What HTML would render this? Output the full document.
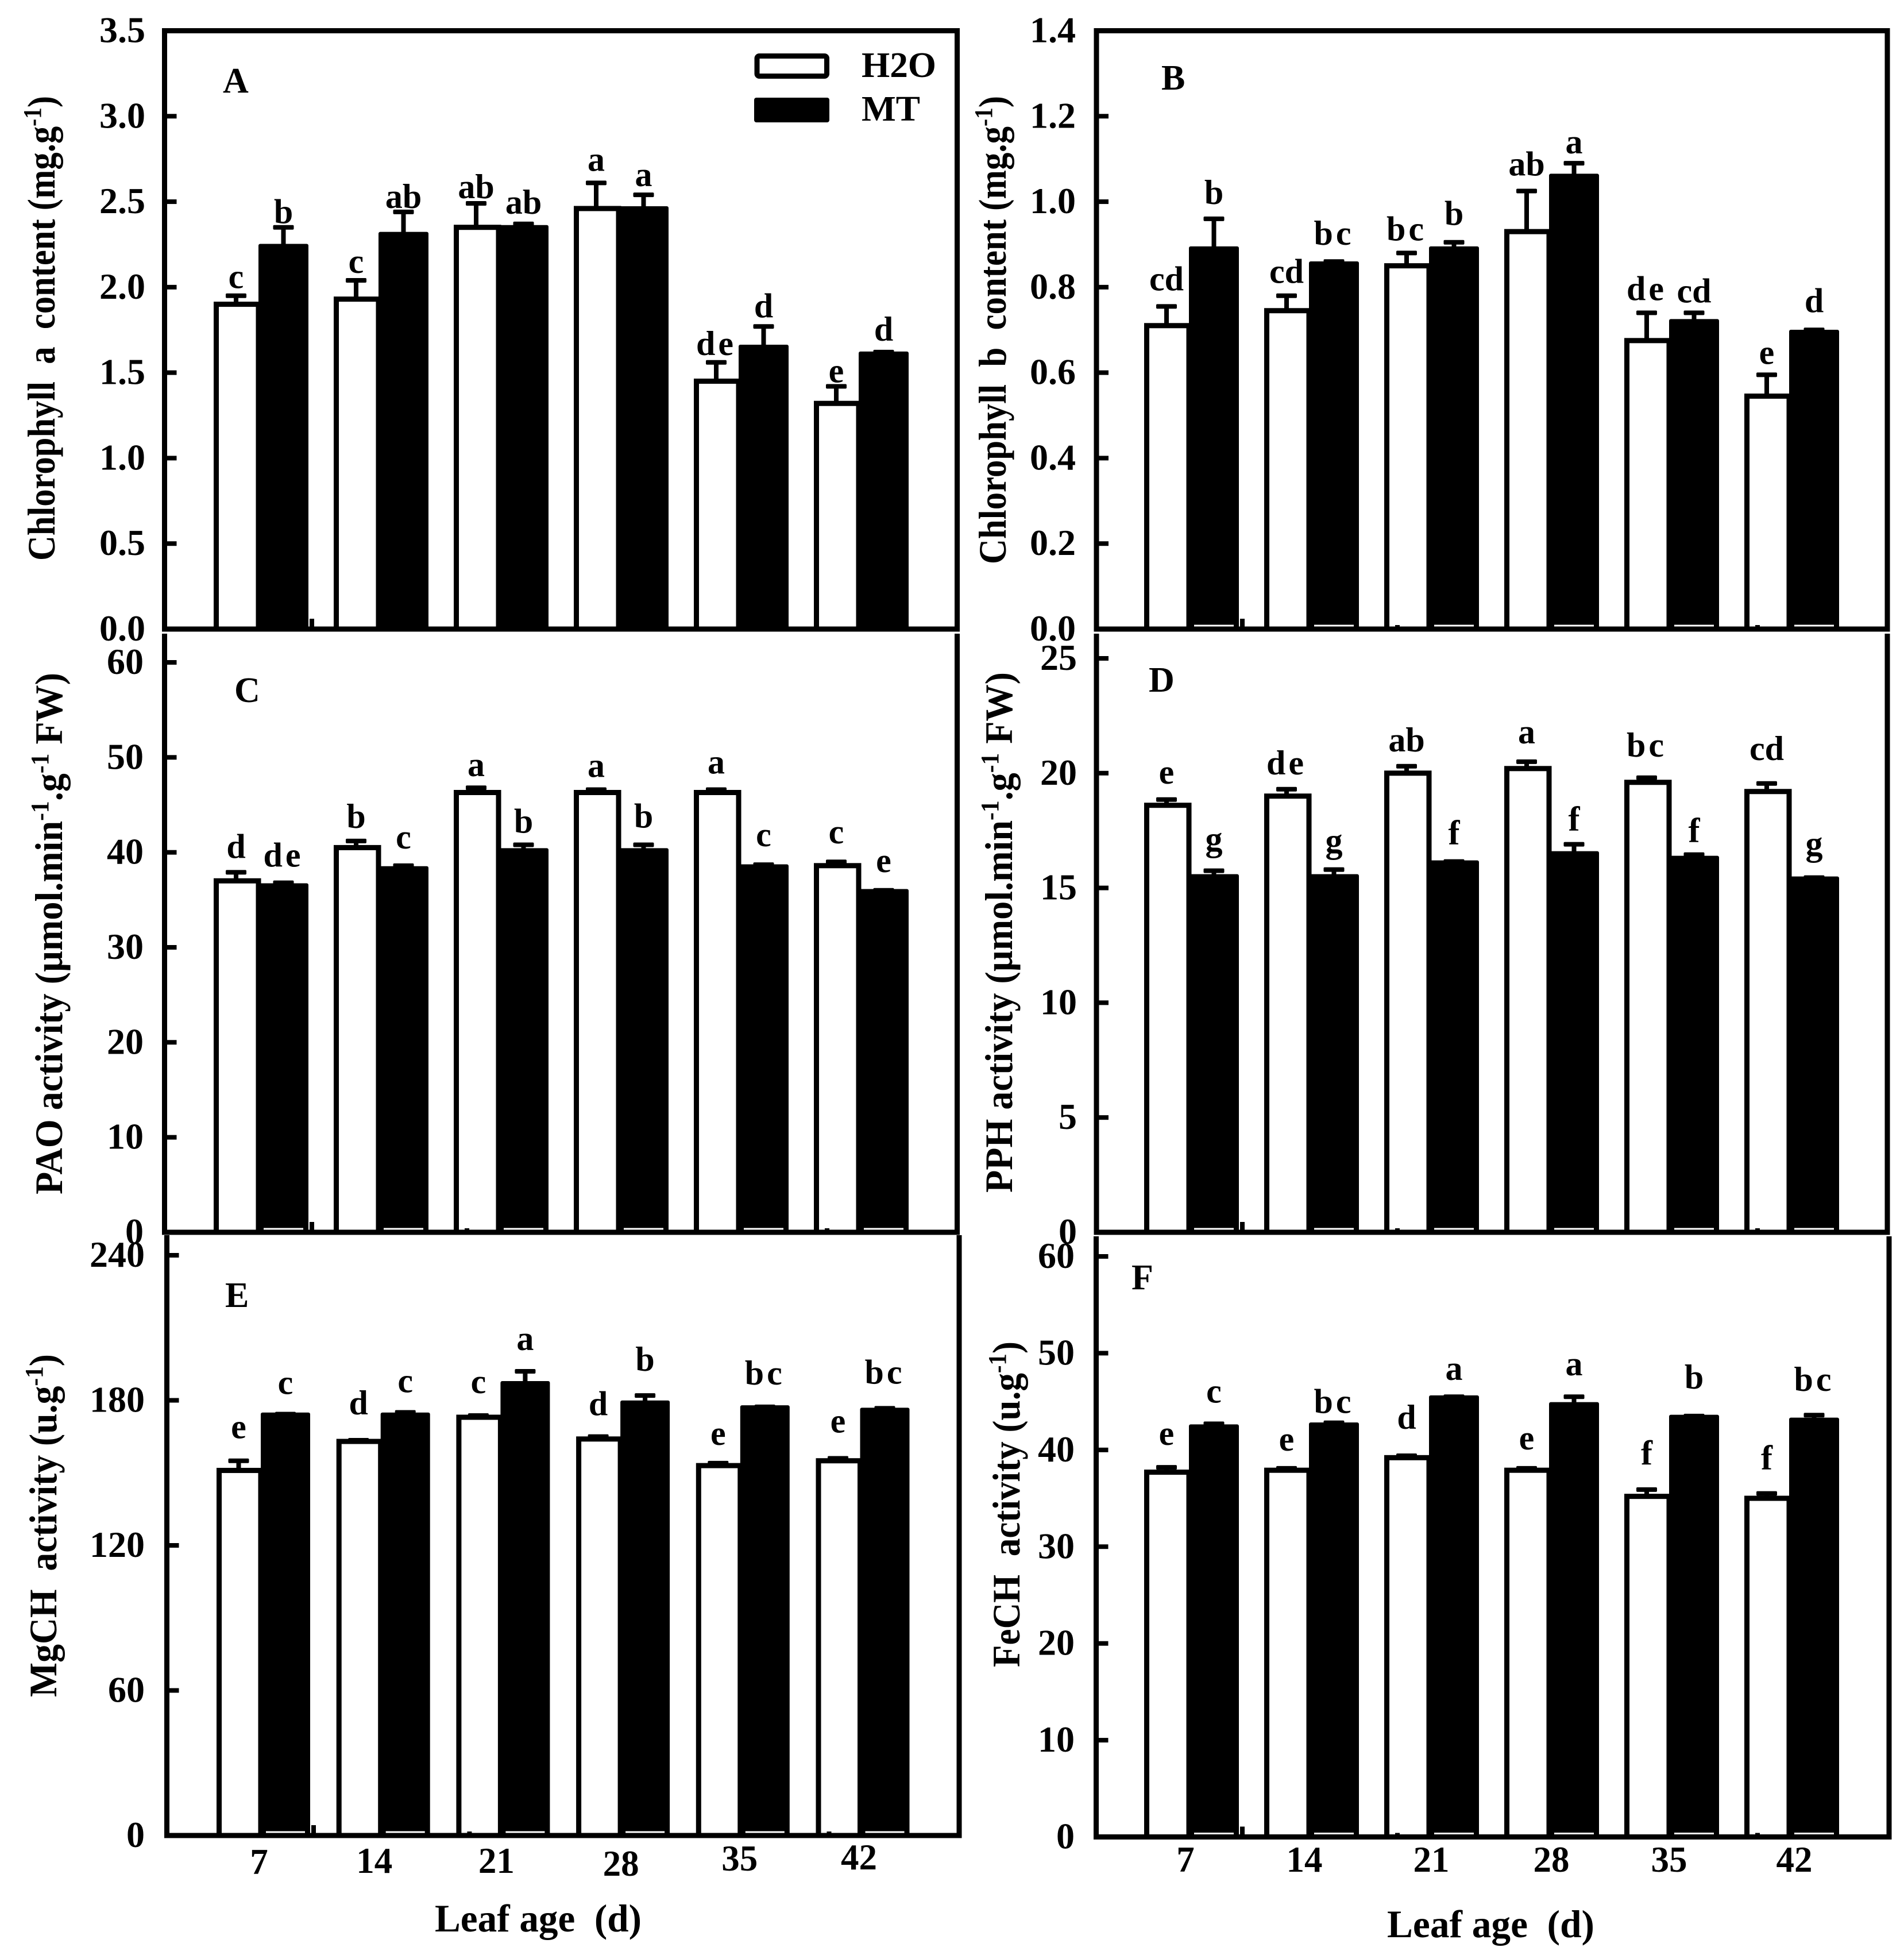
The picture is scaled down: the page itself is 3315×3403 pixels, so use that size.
<!DOCTYPE html>
<html lang="en">
<head>
<meta charset="utf-8">
<title>Leaf age bar charts</title>
<style>
html,body{margin:0;padding:0;background:#fff;}
svg{display:block;}
text{font-family:"Liberation Serif",serif;font-weight:bold;fill:#000;white-space:pre;}
</style>
</head>
<body>
<svg id="chart" xmlns="http://www.w3.org/2000/svg" width="3315" height="3403" viewBox="0 0 3315 3403">
<rect x="0" y="0" width="3315" height="3403" fill="#fff"/>
<g>
<rect x="1318" y="97.5" width="121.5" height="35" rx="4" fill="#fff" stroke="#000" stroke-width="9"/>
<text x="1500" y="134" font-size="62" textLength="130" lengthAdjust="spacingAndGlyphs">H2O</text>
<rect x="1313" y="170" width="131" height="43" rx="4" fill="#000"/>
<text x="1500" y="210" font-size="62" textLength="102" lengthAdjust="spacingAndGlyphs">MT</text>
</g>
<text x="757" y="3362" font-size="68" textLength="360" lengthAdjust="spacingAndGlyphs">Leaf age  (d)</text>
<text x="2415" y="3372" font-size="68" textLength="361" lengthAdjust="spacingAndGlyphs">Leaf age  (d)</text>
</svg>
<script>
const categories = ['7','14','21','28','35','42'];

const ticksA = ['0.0','0.5','1.0','1.5','2.0','2.5','3.0','3.5'];
const h2oA = [1.90,1.93,2.35,2.46,1.45,1.32];
const h2oErrA = [0.05,0.11,0.14,0.15,0.11,0.10];
const mtA = [2.24,2.31,2.35,2.46,1.65,1.61];
const mtErrA = [0.11,0.13,0.02,0.08,0.12,0.01];
const h2oLettersA = ['c','c','ab','a','de','e'];
const mtLettersA = ['b','ab','ab','a','d','d'];

const ticksB = ['0.0','0.2','0.4','0.6','0.8','1.0','1.2','1.4'];
const h2oB = [0.71,0.745,0.85,0.93,0.675,0.545];
const h2oErrB = [0.045,0.035,0.03,0.095,0.065,0.05];
const mtB = [0.89,0.855,0.89,1.06,0.72,0.695];
const mtErrB = [0.07,0.005,0.015,0.03,0.02,0.005];
const h2oLettersB = ['cd','cd','bc','ab','de','e'];
const mtLettersB = ['b','bc','b','a','cd','d'];

const ticksC = ['0','10','20','30','40','50','60'];
const h2oC = [37,40.5,46.3,46.3,46.3,38.6];
const h2oErrC = [0.9,0.7,0.5,0.3,0.3,0.4];
const mtC = [36.5,38.3,40.2,40.2,38.5,35.9];
const mtErrC = [0.3,0.3,0.6,0.6,0.2,0.1];
const h2oLettersC = ['d','b','a','a','a','c'];
const mtLettersC = ['de','c','b','b','c','e'];

const ticksD = ['0','5','10','15','20','25'];
const h2oD = [18.6,19,20,20.2,19.6,19.2];
const h2oErrD = [0.25,0.3,0.3,0.3,0.2,0.35];
const mtD = [15.5,15.5,16.1,16.5,16.3,15.4];
const mtErrD = [0.25,0.3,0.05,0.4,0.15,0.05];
const h2oLettersD = ['e','de','ab','a','bc','cd'];
const mtLettersD = ['g','g','f','f','f','g'];

const ticksE = ['0','60','120','180','240'];
const h2oE = [151,163,173,164,153,155];
const h2oErrE = [4,0.5,0.7,1,1,1];
const mtE = [174,174,187,179,177,176];
const mtErrE = [0.3,1,5,3,0.3,0.7];
const h2oLettersE = ['e','d','c','d','e','e'];
const mtLettersE = ['c','c','a','b','bc','bc'];

const ticksF = ['0','10','20','30','40','50','60'];
const h2oF = [37.7,37.9,39.2,37.9,35.2,35];
const h2oErrF = [0.5,0.2,0.2,0.2,0.7,0.5];
const mtF = [42.4,42.6,45.4,44.7,43.4,43.1];
const mtErrF = [0.3,0.2,0.1,0.8,0.1,0.5];
const h2oLettersF = ['e','e','d','e','f','f'];
const mtLettersF = ['c','bc','a','a','b','bc'];

/* layout only: gap between error cap and significance letter */
const gapH2oA=[13,13,9,21,13,7], gapMtA=[7,7,18,15,16,20];
const gapH2oB=[28,22,22,27,22,19], gapMtB=[26,29,30,17,18,31];
const gapH2oC=[25,23,20,22,28,32], gapMtC=[28,30,21,30,32,32];
const gapH2oD=[28,26,26,32,37,41], gapMtD=[35,30,30,24,22,39];
const gapH2oE=[39,45,39,37,32,45], gapMtE=[35,35,37,43,39,43];
const gapH2oF=[39,31,47,33,44,42], gapMtF=[37,17,29,37,48,42];

/* layout only: nudges of the x tick labels */
const xLabelNudgeE=[-3,-11,-7,1,-1,-2], xLabelLiftE=[3262,3260,3260,3265,3256,3254];
const xLabelNudgeF=[-6,-8,4,4,0,9], xLabelLiftF=[3258,3258,3258,3258,3258,3258];

const panels = [
 {id:'a',letter:'A',lx:388,ly:161,left:286.5,right:1666.5,frameTop:53.5,top:53.5,base:1095,tl:253,x0:372,step:209,ww:78,bw:87,sliver:false,closed:true,
  ticks:ticksA,h:h2oA,he:h2oErrA,m:mtA,me:mtErrA,hl:h2oLettersA,ml:mtLettersA,hg:gapH2oA,mg:gapMtA,
  title:[['Chlorophyll  a  content (mg.g'],['-1',1],[')']],tx:95,ty0:976,ty1:167},
 {id:'b',letter:'B',lx:2022,ly:156,left:1909,right:3286,frameTop:53.5,top:53.5,base:1095,tl:1873,x0:1992,step:209,ww:78,bw:87,sliver:true,closed:true,
  ticks:ticksB,h:h2oB,he:h2oErrB,m:mtB,me:mtErrB,hl:h2oLettersB,ml:mtLettersB,hg:gapH2oB,mg:gapMtB,
  title:[['Chlorophyll  b  content (mg.g'],['-1',1],[')']],tx:1751,ty0:982,ty1:167},
 {id:'c',letter:'C',lx:408,ly:1222,left:286.5,right:1666.5,frameTop:1103,top:1153,base:2145,tl:250,x0:372,step:209,ww:78,bw:87,sliver:true,closed:false,
  ticks:ticksC,h:h2oC,he:h2oErrC,m:mtC,me:mtErrC,hl:h2oLettersC,ml:mtLettersC,hg:gapH2oC,mg:gapMtC,
  title:[['PAO activity (µmol.min'],['-1',1],['.g'],['-1',1],[' FW)']],tx:108,ty0:2079,ty1:1171},
 {id:'d',letter:'D',lx:2000,ly:1204,left:1909,right:3286,frameTop:1103,top:1146,base:2145,tl:1875,x0:1992,step:209,ww:78,bw:87,sliver:true,closed:false,
  ticks:ticksD,h:h2oD,he:h2oErrD,m:mtD,me:mtErrD,hl:h2oLettersD,ml:mtLettersD,hg:gapH2oD,mg:gapMtD,
  title:[['PPH activity (µmol.min'],['-1',1],['.g'],['-1',1],[' FW)']],tx:1762,ty0:2076,ty1:1170},
 {id:'e',letter:'E',lx:392,ly:2275,left:290.5,right:1670,frameTop:2150,top:2185,base:3195,tl:252,x0:377,step:208.7,ww:77,bw:86,sliver:true,closed:false,
  ticks:ticksE,h:h2oE,he:h2oErrE,m:mtE,me:mtErrE,hl:h2oLettersE,ml:mtLettersE,hg:gapH2oE,mg:gapMtE,xn:xLabelNudgeE,xb:xLabelLiftE,
  title:[['MgCH  activity (u.g'],['-1',1],[')']],tx:98,ty0:2954,ty1:2357},
 {id:'f',letter:'F',lx:1970,ly:2244,left:1908.5,right:3289,frameTop:2152,top:2187,base:3197.5,tl:1871,x0:1992,step:209,ww:78,bw:87,sliver:true,closed:false,
  ticks:ticksF,h:h2oF,he:h2oErrF,m:mtF,me:mtErrF,hl:h2oLettersF,ml:mtLettersF,hg:gapH2oF,mg:gapMtF,xn:xLabelNudgeF,xb:xLabelLiftF,
  title:[['FeCH  activity (u.g'],['-1',1],[')']],tx:1775,ty0:2902,ty1:2335}
];

const NS = 'http://www.w3.org/2000/svg';
const root = document.getElementById('chart');
function make(tag, attrs, parent){
  const el = document.createElementNS(NS, tag);
  for(const k in attrs){ el.setAttribute(k, attrs[k]); }
  parent.appendChild(el);
  return el;
}

function drawError(g, cx, y, yTop, p, i, series){
  const stem = make('rect',{x:cx-4,y:yTop,width:8,height:y-yTop,fill:'#000'},g);
  
  
  const cap = make('rect',{x:cx-18,y:yTop-4,width:36,height:8,rx:2,fill:'#000'},g);
  
  
}

function drawLetter(g, cx, y, str, p, i, series){
  const spaced = (str==='bc'||str==='de');
  const t = make('text',{x:cx,y:y,'font-size':60,'text-anchor':'middle','letter-spacing':spaced?5:0},g);
  t.textContent = str;
  
  
}

panels.forEach(function(p){
  const g = make('g',{},root);
  
  

  const tickVals = p.ticks.map(Number);
  const yMax = Math.max.apply(null, tickVals);
  const yPos = function(v){ return p.base - (v/yMax)*(p.base-p.top); };
  const xPos = function(i){ return p.x0 + p.step*i; };

  /* bars */
  p.h.forEach(function(v,i){
    const x = xPos(i), y = yPos(v), cx = x + p.ww/2;
    drawError(g, cx, y, yPos(v+p.he[i]), p, i, 'h2o');
    const bar = make('rect',{x:x+4.5,y:y,width:p.ww-4.5,height:p.base-y,fill:'#fff',stroke:'#000','stroke-width':9},g);
    
    
    drawLetter(g, cx, yPos(v+p.he[i])-p.hg[i], p.hl[i], p, i, 'h2o');
    if(p.sliver && (i===2||i===5)){
      const d = make('rect',{x:x+19,y:p.base-7,width:8,height:4,fill:'#000'},g);
      
      
    }
  });
  p.m.forEach(function(v,i){
    const x = xPos(i)+p.ww, y = yPos(v), cx = x + p.bw/2;
    drawError(g, cx, y, yPos(v+p.me[i]), p, i, 'mt');
    const bar = make('rect',{x:x,y:y-4,width:p.bw,height:p.base-y+4,rx:3,fill:'#000'},g);
    
    
    if(p.sliver){
      const s = make('rect',{x:x+9,y:p.base-7.5,width:p.bw-18,height:3.5,fill:'#fff'},g);
      
      
    }
    drawLetter(g, cx, yPos(v+p.me[i])-p.mg[i], p.ml[i], p, i, 'mt');
  });
  const nub = make('rect',{x:xPos(0)+p.ww+p.bw+2,y:p.base-18,width:8,height:18,fill:'#000'},g);
  
  

  /* frame */
  const frameAttrs = {fill:'none',stroke:'#000','stroke-width':9};
  frameAttrs.d = p.closed
    ? 'M'+p.left+' '+p.frameTop+'H'+p.right+'V'+p.base+'H'+p.left+'Z'
    : 'M'+p.left+' '+p.frameTop+'V'+p.base+'H'+p.right+'V'+p.frameTop;
  const frame = make('path',frameAttrs,g);
  
  

  /* y ticks */
  p.ticks.forEach(function(lbl){
    const y = yPos(Number(lbl));
    const tk = make('rect',{x:p.left,y:y-4,width:21,height:8,fill:'#000'},g);
    
    
    const t = make('text',{x:p.tl,y:y+20,'font-size':64,'text-anchor':'end'},g);
    t.textContent = lbl;
    
    
  });

  /* panel letter */
  const pl = make('text',{x:p.lx,y:p.ly,'font-size':62},g);
  pl.textContent = p.letter;
  
  

  /* y title */
  const title = make('text',{transform:'translate('+p.tx+' '+p.ty0+') rotate(-90)','font-size':68,textLength:p.ty0-p.ty1,lengthAdjust:'spacingAndGlyphs'},g);
  
  
  let raised = false;
  p.title.forEach(function(part){
    const ts = make('tspan',{},title);
    ts.textContent = part[0];
    if(part[1]){ ts.setAttribute('dy','-24'); ts.setAttribute('font-size','44'); raised = true; }
    else if(raised){ ts.setAttribute('dy','24'); raised = false; }
  });

  /* x labels on bottom panels */
  if(p.xn){
    categories.forEach(function(c,i){
      const t = make('text',{x:xPos(i)+p.ww+p.xn[i],y:p.xb[i],'font-size':63,'text-anchor':'middle'},g);
      t.textContent = c;
      
      
    });
  }
});
</script>
</body>
</html>
